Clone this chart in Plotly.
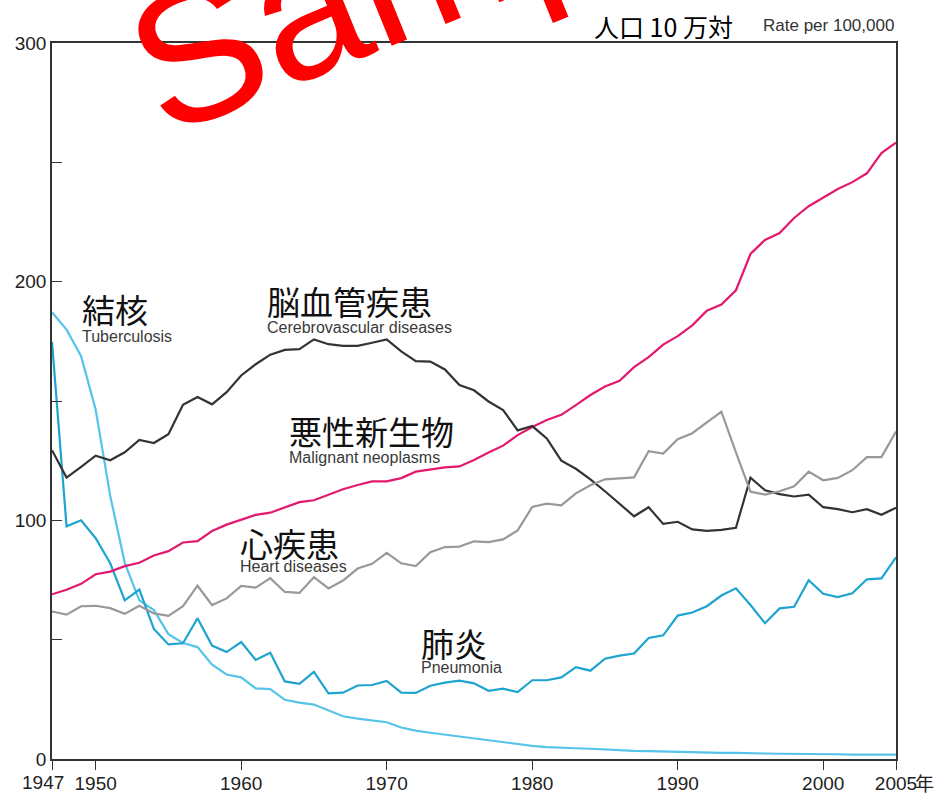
import plotly.graph_objects as go

years = list(range(1947, 2006))

tuberculosis = [187.2, 179.9, 168.8, 146.4, 110.3, 82.2, 66.5, 62.4, 52.3, 48.6,
                46.9, 39.5, 35.4, 34.2, 29.6, 29.3, 24.8, 23.6, 22.8, 20.3,
                17.9, 16.9, 16.0, 15.4, 13.2, 11.9, 11.0, 10.2, 9.5, 8.6,
                7.9, 7.1, 6.1, 5.5, 5.0, 4.6, 4.5, 4.3, 3.9, 3.7,
                3.4, 3.3, 3.1, 3.0, 2.8, 2.7, 2.6, 2.6, 2.6, 2.3,
                2.2, 2.2, 2.3, 2.1, 2.0, 1.8, 1.9, 1.8, 1.8]

pneumonia = [174.8, 97.5, 100.0, 92.5, 82.0, 66.5, 71.0, 54.5, 48.0, 48.5,
             59.0, 47.5, 44.8, 49.0, 41.5, 44.5, 32.5, 31.5, 36.5, 27.5,
             27.8, 30.8, 31.0, 32.7, 27.8, 27.7, 30.7, 32.0, 32.8, 31.7,
             28.6, 29.5, 28.0, 33.0, 33.0, 34.2, 38.5, 37.0, 42.0, 43.3,
             44.2, 50.7, 51.8, 60.1, 61.4, 64.0, 68.5, 71.5, 64.5, 56.9,
             63.1, 63.8, 74.9, 69.2, 67.8, 69.4, 75.3, 75.7, 84.5]

malignant = [69.0, 70.9, 73.4, 77.4, 78.5, 80.8, 82.2, 85.3, 87.1, 90.7,
             91.3, 95.5, 98.2, 100.4, 102.3, 103.2, 105.5, 107.6, 108.4, 110.8,
             113.0, 114.8, 116.3, 116.3, 117.7, 120.4, 121.2, 122.2, 122.6, 125.3,
             128.4, 131.3, 135.7, 139.1, 142.0, 144.2, 148.3, 152.5, 156.1, 158.5,
             164.2, 168.4, 173.6, 177.2, 181.7, 187.8, 190.4, 196.4, 211.6, 217.5,
             220.4, 226.7, 231.6, 235.2, 238.8, 241.7, 245.4, 253.9, 258.3]

cerebrovascular = [129.4, 117.9, 122.4, 127.1, 125.2, 128.5, 133.7, 132.4, 136.1, 148.4,
                   151.7, 148.6, 153.7, 160.7, 165.4, 169.4, 171.4, 171.7, 175.8, 173.8,
                   173.1, 173.1, 174.4, 175.8, 170.8, 166.7, 166.5, 163.2, 156.7, 154.5,
                   149.8, 146.2, 137.7, 139.5, 134.3, 125.0, 121.6, 117.2, 112.2, 106.9,
                   101.7, 105.5, 98.5, 99.4, 96.2, 95.6, 96.0, 96.9, 117.9, 112.6,
                   111.0, 110.0, 110.8, 105.5, 104.7, 103.4, 104.7, 102.3, 105.3]

heart = [61.8, 60.5, 64.0, 64.2, 63.2, 60.8, 64.2, 61.0, 60.0, 64.0,
         72.6, 64.5, 67.3, 72.5, 71.8, 75.8, 70.0, 69.6, 76.2, 71.5,
         74.8, 79.8, 81.8, 86.4, 82.0, 80.8, 86.6, 88.8, 89.0, 91.2,
         90.9, 92.0, 95.8, 105.6, 107.0, 106.3, 111.3, 114.7, 117.2, 117.6,
         118.0, 129.0, 128.0, 134.0, 136.5, 141.0, 145.5, 128.5, 112.0, 110.8,
         112.2, 114.3, 120.4, 116.8, 117.8, 121.0, 126.5, 126.5, 137.2]

x_tick_vals = [1947, 1950, 1960, 1970, 1980, 1990, 2000, 2005]
x_tick_text = ["", "1950", "1960", "1970", "1980", "1990", "2000", "2005"]
y_tick_vals = [0, 50, 100, 150, 200, 250, 300]
y_tick_text = ["0", "", "100", "", "200", "", "300"]

series = [
    ("結核 Tuberculosis", tuberculosis, "#55c4e8"),
    ("肺炎 Pneumonia", pneumonia, "#1ea4cf"),
    ("悪性新生物 Malignant neoplasms", malignant, "#e3186f"),
    ("脳血管疾患 Cerebrovascular diseases", cerebrovascular, "#333333"),
    ("心疾患 Heart diseases", heart, "#999999"),
]

fig = go.Figure()
for name, vals, color in series:
    fig.add_trace(go.Scatter(x=years, y=vals, mode="lines", name=name,
                             line=dict(color=color, width=2.2)))

CJK = "Noto Sans CJK JP"
LAT = "Liberation Sans, Arial, sans-serif"

labels = [
    ("結核", "Tuberculosis", 1948.94, 188.5, 177.2),
    ("脳血管疾患", "Cerebrovascular diseases", 1961.62, 191.9, 180.8),
    ("悪性新生物", "Malignant neoplasms", 1963.17, 137.6, 126.3),
    ("心疾患", "Heart diseases", 1959.8, 90.3, 80.5),
    ("肺炎", "Pneumonia", 1972.2, 48.6, 38.3),
]
annotations = []
for jp, en, lx, yjp, yen in labels:
    annotations.append(dict(x=lx, y=yjp, xref="x", yref="y", text=jp, showarrow=False,
                            xanchor="left", yanchor="middle",
                            font=dict(family=CJK, size=33, color="#111111")))
    annotations.append(dict(x=lx, y=yen, xref="x", yref="y", text=en, showarrow=False,
                            xanchor="left", yanchor="middle",
                            font=dict(family=LAT, size=16, color="#3a3a3a")))

annotations += [
    dict(x=0.809, y=1.0237, xref="paper", yref="paper", text="人口 10 万対",
         showarrow=False, xanchor="right", yanchor="middle",
         font=dict(family=CJK, size=25, color="#000000")),
    dict(x=1.0, y=1.025, xref="paper", yref="paper", text="Rate per 100,000",
         showarrow=False, xanchor="right", yanchor="middle",
         font=dict(family=LAT, size=17, color="#333333")),
    dict(x=1947, y=-0.0335, xref="x", yref="paper", text="1947", xshift=-9.5,
         showarrow=False, xanchor="center", yanchor="middle",
         font=dict(family=LAT, size=19, color="#222222")),
    dict(x=2005, y=-0.0335, xref="x", yref="paper", text="年", xshift=17,
         showarrow=False, xanchor="left", yanchor="middle",
         font=dict(family=CJK, size=19, color="#222222")),
    dict(x=0.457, y=1.1214, xref="paper", yref="paper", text="Sample",
         showarrow=False, xanchor="center", yanchor="middle", textangle=-22,
         font=dict(family=LAT, size=190, color="#ff0000")),
]

fig.update_layout(
    width=939, height=795,
    margin=dict(l=52, r=43, t=43, b=36),
    paper_bgcolor="white", plot_bgcolor="white",
    showlegend=False,
    annotations=annotations,
    xaxis=dict(range=[1947, 2005], showgrid=False, zeroline=False, automargin=False,
               showline=True, linecolor="#333333", linewidth=1.5, mirror=True,
               ticks="outside", ticklen=9, tickwidth=1.2, tickcolor="#333333",
               ticklabelstandoff=-3,
               tickvals=x_tick_vals, ticktext=x_tick_text,
               tickfont=dict(family=LAT, size=19, color="#222222")),
    yaxis=dict(range=[0, 300], showgrid=False, zeroline=False, automargin=False,
               showline=True, linecolor="#333333", linewidth=1.5, mirror=True,
               ticks="inside", ticklen=10, tickwidth=1.2, tickcolor="#333333",
               tickvals=y_tick_vals, ticktext=y_tick_text,
               tickfont=dict(family=LAT, size=19, color="#222222")),
)

fig.write_html("out.html", config={"displayModeBar": False},
               post_script="document.body.style.margin='0px';")
